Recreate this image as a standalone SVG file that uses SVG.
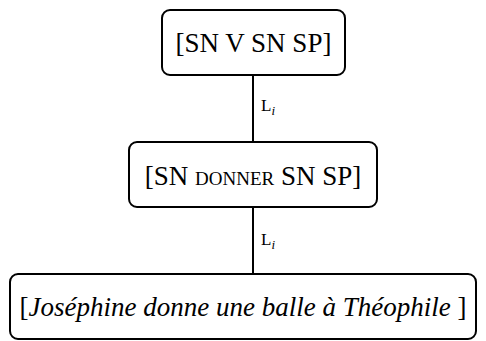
<svg xmlns="http://www.w3.org/2000/svg" width="486" height="341" viewBox="0 0 486 341">
<style>
.box{fill:#fff;stroke:#000;stroke-width:2}
.t{font-family:"Liberation Serif","DejaVu Serif",serif;font-size:27px;fill:#000}
.l{font-family:"Liberation Serif","DejaVu Serif",serif;font-size:17px;fill:#000}
.c{stroke:#000;stroke-width:2;fill:none}
</style>
<rect width="486" height="341" fill="#fff"/>
<g id="connectors">
<line class="c" x1="253" y1="75" x2="253" y2="142"/>
<line class="c" x1="253" y1="207" x2="253" y2="274"/>
<text class="l" x="261" y="111">L<tspan font-style="italic" font-size="13" dy="4">i</tspan></text>
<text class="l" x="261" y="245">L<tspan font-style="italic" font-size="13" dy="4">i</tspan></text>
</g>
<g id="n1">
<rect class="box" x="162" y="10" width="183" height="65" rx="8"/>
<text class="t" x="253.5" y="52" text-anchor="middle">[SN V SN SP]</text>
</g>
<g id="n2">
<rect class="box" x="129" y="142" width="248" height="65" rx="8"/>
<text class="t" x="253" y="185" text-anchor="middle">[SN <tspan font-size="19">DONNER</tspan> SN SP]</text>
</g>
<g id="n3">
<rect class="box" x="10" y="274" width="466" height="65" rx="8"/>
<text class="t" x="243" y="316" text-anchor="middle">[<tspan font-style="italic">Joséphine donne une balle à Théophile</tspan> ]</text>
</g>
</svg>
